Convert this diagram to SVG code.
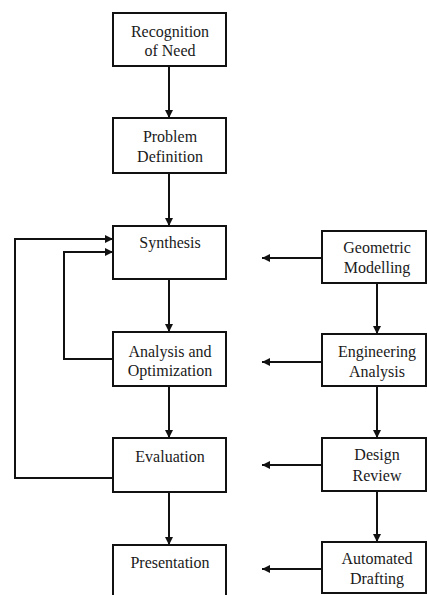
<svg xmlns="http://www.w3.org/2000/svg" width="427" height="595" viewBox="0 0 427 595">
<defs>
<style>
.box{fill:#fff;stroke:#111;stroke-width:2}
.t{font-family:"Liberation Serif","Times New Roman",serif;font-size:16px;fill:#1a1a1a;text-anchor:middle}
.c{fill:none;stroke:#111;stroke-width:2}
</style>
<marker id="ah" viewBox="0 0 10 10" refX="10" refY="5" markerWidth="4" markerHeight="4" markerUnits="strokeWidth" orient="auto">
<path d="M0,0 L10,5 L0,10 z" fill="#111"/>
</marker>
</defs>
<rect width="427" height="595" fill="#fff"/>
<g id="connectors">
<line class="c" x1="169" y1="66" x2="169" y2="118" marker-end="url(#ah)"/>
<line class="c" x1="169" y1="173" x2="169" y2="226" marker-end="url(#ah)"/>
<line class="c" x1="169" y1="279" x2="169" y2="332" marker-end="url(#ah)"/>
<line class="c" x1="169" y1="386" x2="169" y2="438" marker-end="url(#ah)"/>
<line class="c" x1="169" y1="492" x2="169" y2="545" marker-end="url(#ah)"/>
<line class="c" x1="377" y1="283" x2="377" y2="334" marker-end="url(#ah)"/>
<line class="c" x1="377" y1="386" x2="377" y2="438" marker-end="url(#ah)"/>
<line class="c" x1="377" y1="491" x2="377" y2="542" marker-end="url(#ah)"/>
<line class="c" x1="322" y1="258" x2="262" y2="258" marker-end="url(#ah)"/>
<line class="c" x1="322" y1="362" x2="262" y2="362" marker-end="url(#ah)"/>
<line class="c" x1="322" y1="465" x2="262" y2="465" marker-end="url(#ah)"/>
<line class="c" x1="322" y1="569" x2="262" y2="569" marker-end="url(#ah)"/>
<polyline class="c" points="113,478 15,478 15,239 113,239" marker-end="url(#ah)"/>
<polyline class="c" points="113,359 64,359 64,252 113,252" marker-end="url(#ah)"/>
</g>
<g id="recognition">
<rect class="box" x="113" y="13" width="113" height="53"/>
<text class="t" x="170" y="37">Recognition</text>
<text class="t" x="170" y="56">of Need</text>
</g>
<g id="problem">
<rect class="box" x="113" y="118" width="113" height="55"/>
<text class="t" x="170" y="142">Problem</text>
<text class="t" x="170" y="162">Definition</text>
</g>
<g id="synthesis">
<rect class="box" x="113" y="226" width="113" height="53"/>
<text class="t" x="170" y="248">Synthesis</text>
</g>
<g id="analysis">
<rect class="box" x="113" y="332" width="113" height="54"/>
<text class="t" x="170" y="357">Analysis and</text>
<text class="t" x="170" y="376">Optimization</text>
</g>
<g id="evaluation">
<rect class="box" x="113" y="438" width="113" height="54"/>
<text class="t" x="170" y="462">Evaluation</text>
</g>
<g id="presentation">
<rect class="box" x="113" y="545" width="113" height="60"/>
<text class="t" x="170" y="568">Presentation</text>
</g>
<g id="geometric">
<rect class="box" x="322" y="231" width="104" height="52"/>
<text class="t" x="377" y="253">Geometric</text>
<text class="t" x="377" y="273">Modelling</text>
</g>
<g id="engineering">
<rect class="box" x="322" y="334" width="104" height="52"/>
<text class="t" x="377" y="357">Engineering</text>
<text class="t" x="377" y="377">Analysis</text>
</g>
<g id="design">
<rect class="box" x="322" y="438" width="104" height="53"/>
<text class="t" x="377" y="460">Design</text>
<text class="t" x="377" y="481">Review</text>
</g>
<g id="drafting">
<rect class="box" x="322" y="542" width="104" height="51"/>
<text class="t" x="377" y="564">Automated</text>
<text class="t" x="377" y="584">Drafting</text>
</g>
</svg>
